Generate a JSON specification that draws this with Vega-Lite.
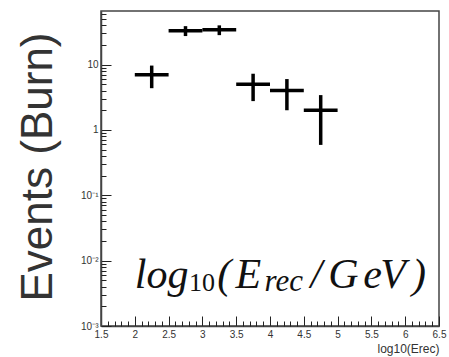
{
  "$schema": "https://vega.github.io/schema/vega-lite/v6.json",
  "width": 338,
  "height": 315,
  "autosize": {"type": "none"},
  "padding": {"left": 101, "top": 11, "right": 10, "bottom": 31},
  "background": "white",
  "config": {
    "view": {"stroke": "#444", "strokeWidth": 1.5},
    "axis": {"grid": false, "domainColor": "#444", "domainWidth": 1.5, "tickColor": "#222", "labelFont": "Liberation Sans", "titleFont": "Liberation Sans", "labelColor": "#333"}
  },
  "datasets": {
    "bins": [
      {"lo": 2.0, "hi": 2.5, "mid": 2.25, "events": 7, "err_lo": 4.35, "err_hi": 9.65},
      {"lo": 2.5, "hi": 3.0, "mid": 2.75, "events": 33, "err_lo": 27.3, "err_hi": 38.7},
      {"lo": 3.0, "hi": 3.5, "mid": 3.25, "events": 34, "err_lo": 28.2, "err_hi": 39.8},
      {"lo": 3.5, "hi": 4.0, "mid": 3.75, "events": 5, "err_lo": 2.76, "err_hi": 7.24},
      {"lo": 4.0, "hi": 4.5, "mid": 4.25, "events": 4, "err_lo": 2.0, "err_hi": 6.0},
      {"lo": 4.5, "hi": 5.0, "mid": 4.75, "events": 2, "err_lo": 0.59, "err_hi": 3.41}
    ]
  },
  "layer": [
    {
      "data": {"name": "bins"},
      "mark": {"type": "rule", "strokeWidth": 3.5, "color": "black"},
      "encoding": {
        "x": {
          "field": "lo", "type": "quantitative",
          "scale": {"domain": [1.5, 6.5], "nice": false, "zero": false},
          "axis": {
            "orient": "bottom",
            "values": [1.5, 2, 2.5, 3, 3.5, 4, 4.5, 5, 5.5, 6, 6.5],
            "format": "~g",
            "tickSize": -10,
            "labelPadding": 13,
            "labelFontSize": 10,
            "labelFlush": false,
            "labelOverlap": false,
            "title": "log10(Erec)",
            "titleFontSize": 12,
            "titleFontWeight": "normal",
            "titleColor": "#333",
            "titleAnchor": "end",
            "titleAlign": "right",
            "titleX": 338,
            "titleY": 17,
            "titleBaseline": "top"
          }
        },
        "x2": {"field": "hi"},
        "y": {
          "field": "events", "type": "quantitative",
          "scale": {"type": "log", "domain": [0.001, 66], "nice": false},
          "axis": {
            "orient": "left",
            "values": [0.001, 0.01, 0.1, 1, 10],
            "labelExpr": "datum.value > 5 ? '10' : datum.value > 0.5 ? '1' : datum.value > 0.05 ? '10⁻¹' : datum.value > 0.005 ? '10⁻²' : '10⁻³'",
            "tickSize": -10,
            "labelPadding": 13,
            "labelFontSize": 10,
            "labelOverlap": false,
            "title": "Events (Burn)",
            "titleFontSize": 44,
            "titleFontWeight": "normal",
            "titleColor": "#333",
            "titleAngle": 270,
            "titleAlign": "center",
            "titleBaseline": "alphabetic",
            "titleX": -50,
            "titleY": 155.5
          }
        }
      }
    },
    {
      "data": {"name": "bins"},
      "mark": {"type": "rule", "strokeWidth": 3.5, "color": "black"},
      "encoding": {
        "x": {
          "field": "mid", "type": "quantitative",
          "axis": {
            "orient": "bottom",
            "values": [1.6, 1.7, 1.8, 1.9, 2.1, 2.2, 2.3, 2.4, 2.6, 2.7, 2.8, 2.9, 3.1, 3.2, 3.3, 3.4, 3.6, 3.7, 3.8, 3.9, 4.1, 4.2, 4.3, 4.4, 4.6, 4.7, 4.8, 4.9, 5.1, 5.2, 5.3, 5.4, 5.6, 5.7, 5.8, 5.9, 6.1, 6.2, 6.3, 6.4],
            "labels": false,
            "domain": false,
            "tickSize": -5,
            "title": null
          }
        },
        "y": {
          "field": "err_lo", "type": "quantitative",
          "axis": {
            "orient": "left",
            "values": [0.002, 0.003, 0.004, 0.005, 0.006, 0.007, 0.008, 0.009, 0.02, 0.03, 0.04, 0.05, 0.06, 0.07, 0.08, 0.09, 0.2, 0.3, 0.4, 0.5, 0.6, 0.7, 0.8, 0.9, 2, 3, 4, 5, 6, 7, 8, 9, 20, 30, 40, 50, 60],
            "labels": false,
            "domain": false,
            "tickSize": -5,
            "title": null
          }
        },
        "y2": {"field": "err_hi"}
      }
    },
    {
      "data": {"values": [
        {"glyph": "log", "px": 2.0, "py": 0.0038},
        {"glyph": "(", "px": 3.22, "py": 0.0038},
        {"glyph": "E", "px": 3.49, "py": 0.0038},
        {"glyph": "/", "px": 4.6, "py": 0.0038},
        {"glyph": "G", "px": 4.86, "py": 0.0038},
        {"glyph": "e", "px": 5.38, "py": 0.0038},
        {"glyph": "V", "px": 5.63, "py": 0.0038},
        {"glyph": ")", "px": 6.1, "py": 0.0038}
      ]},
      "mark": {"type": "text", "align": "left", "baseline": "alphabetic", "font": "Liberation Serif", "fontStyle": "italic", "fontSize": 42, "color": "#111"},
      "encoding": {
        "x": {"field": "px", "type": "quantitative", "axis": null},
        "y": {"field": "py", "type": "quantitative", "axis": null},
        "text": {"field": "glyph"}
      }
    },
    {
      "data": {"values": [
        {"glyph": "10", "px": 2.8, "py": 0.0034}
      ]},
      "mark": {"type": "text", "align": "left", "baseline": "alphabetic", "font": "Liberation Serif", "fontSize": 26, "color": "#111"},
      "encoding": {
        "x": {"field": "px", "type": "quantitative", "axis": null},
        "y": {"field": "py", "type": "quantitative", "axis": null},
        "text": {"field": "glyph"}
      }
    },
    {
      "data": {"values": [
        {"glyph": "rec", "px": 3.92, "py": 0.0034}
      ]},
      "mark": {"type": "text", "align": "left", "baseline": "alphabetic", "font": "Liberation Serif", "fontStyle": "italic", "fontSize": 31, "color": "#111"},
      "encoding": {
        "x": {"field": "px", "type": "quantitative", "axis": null},
        "y": {"field": "py", "type": "quantitative", "axis": null},
        "text": {"field": "glyph"}
      }
    }
  ],
  "resolve": {"axis": {"x": "independent", "y": "independent"}}
}
